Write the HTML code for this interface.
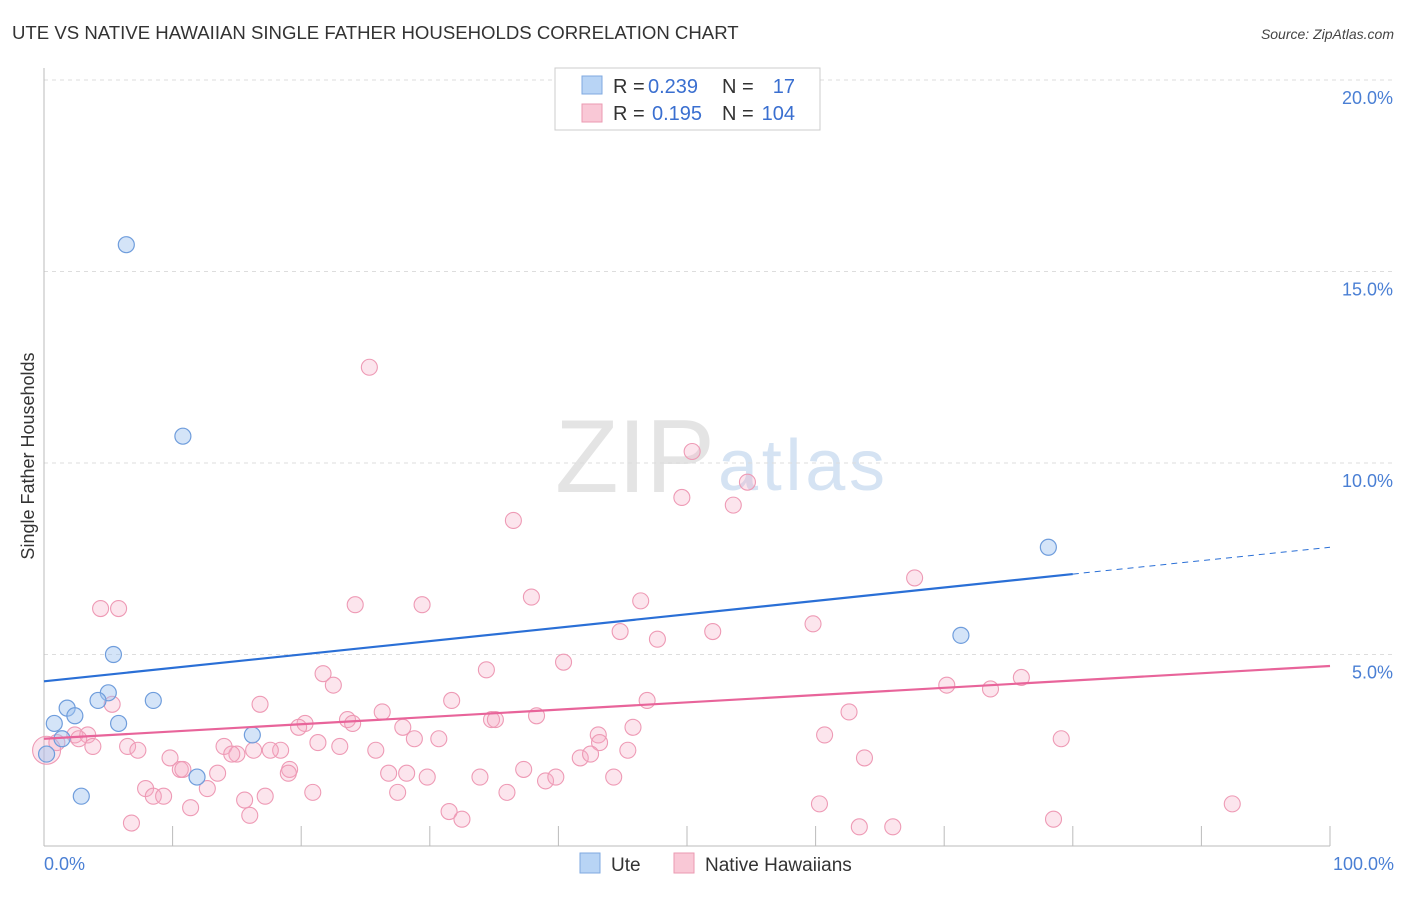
<!DOCTYPE html>
<html><head><meta charset="utf-8"><style>
body{margin:0;background:#fff;font-family:"Liberation Sans",sans-serif;}
svg text{font-family:"Liberation Sans",sans-serif;}
</style></head><body>
<svg width="1406" height="892" viewBox="0 0 1406 892">
<text x="12" y="39" font-size="18.6" fill="#333">UTE VS NATIVE HAWAIIAN SINGLE FATHER HOUSEHOLDS CORRELATION CHART</text>
<text x="1394" y="39" font-size="14" fill="#444" font-style="italic" text-anchor="end">Source: ZipAtlas.com</text>
<text x="555" y="492" font-size="104" fill="#e4e4e4" font-family="Liberation Serif" textLength="160">ZIP</text>
<text x="718" y="490" font-size="72" fill="#d5e3f3" textLength="167">atlas</text>
<g id="grid"></g>
<g id="axes"></g>
<text transform="translate(34,456) rotate(-90)" font-size="18" fill="#333" text-anchor="middle">Single Father Households</text>
<text x="44" y="870" font-size="18" fill="#4a7fd4">0.0%</text>
<text x="1394" y="870" font-size="18" fill="#4a7fd4" text-anchor="end">100.0%</text>
<g id="pink"></g>
<g id="blue"></g>
<g id="trends"></g>
<g>
<rect x="555" y="68" width="265" height="62" fill="#fff" stroke="#ccc"/>
<rect x="582" y="76" width="20" height="18" fill="#b8d4f5" stroke="#7fa9e0"/>
<rect x="582" y="104" width="20" height="18" fill="#f9c8d6" stroke="#eb9ab2"/>
<text x="613" y="93" font-size="20" fill="#333">R =</text>
<text x="648" y="93" font-size="20" fill="#3a6fd0">0.239</text>
<text x="722" y="93" font-size="20" fill="#333">N =</text>
<text x="795" y="93" font-size="20" fill="#3a6fd0" text-anchor="end">17</text>
<text x="613" y="120" font-size="20" fill="#333">R =</text>
<text x="652" y="120" font-size="20" fill="#3a6fd0">0.195</text>
<text x="722" y="120" font-size="20" fill="#333">N =</text>
<text x="795" y="120" font-size="20" fill="#3a6fd0" text-anchor="end">104</text>
</g>
<g>
<rect x="580" y="853" width="20" height="20" fill="#b8d4f5" stroke="#7fa9e0"/>
<text x="611" y="871" font-size="19" fill="#333">Ute</text>
<rect x="674" y="853" width="20" height="20" fill="#f9c8d6" stroke="#eb9ab2"/>
<text x="705" y="871" font-size="19" fill="#333">Native Hawaiians</text>
</g>
</svg>
<script>
const yTicks=[5,10,15,20];
const yTickLabels=["5.0%","10.0%","15.0%","20.0%"];
const uteX=[6.4,10.8,5.4,5.0,4.2,8.5,1.8,2.4,0.8,5.8,1.4,16.2,11.9,2.9,0.2,78.1,71.3];
const uteY=[15.7,10.7,5.0,4.0,3.8,3.8,3.6,3.4,3.2,3.2,2.8,2.9,1.8,1.3,2.4,7.8,5.5];
const nhX=[25.3,50.4,54.7,49.6,53.6,36.5,37.9,67.7,4.4,5.8,24.2,29.4,46.4,44.8,47.7,52.0,59.8,40.4,34.4,21.7,22.5,70.2,73.6,76.0,5.3,16.8,31.7,46.9,62.6,26.3,20.3,23.6,24.0,19.8,27.9,34.8,35.1,38.3,45.8,43.1,60.7,79.1,2.4,3.4,1.0,2.7,3.8,6.5,7.3,14.0,16.3,21.3,23.0,25.8,28.8,30.7,43.2,45.4,18.4,15.0,14.6,17.6,9.8,10.6,10.8,13.5,19.1,19.0,26.8,28.2,29.8,33.9,37.3,39.0,39.8,41.7,42.5,44.3,63.8,7.9,8.5,9.3,12.7,17.2,20.9,27.5,36.0,15.6,11.4,16.0,31.5,32.5,6.8,60.3,63.4,66.0,78.5,92.4,0.2];
const nhY=[12.5,10.3,9.5,9.1,8.9,8.5,6.5,7.0,6.2,6.2,6.3,6.3,6.4,5.6,5.4,5.6,5.8,4.8,4.6,4.5,4.2,4.2,4.1,4.4,3.7,3.7,3.8,3.8,3.5,3.5,3.2,3.3,3.2,3.1,3.1,3.3,3.3,3.4,3.1,2.9,2.9,2.8,2.9,2.9,2.7,2.8,2.6,2.6,2.5,2.6,2.5,2.7,2.6,2.5,2.8,2.8,2.7,2.5,2.5,2.4,2.4,2.5,2.3,2.0,2.0,1.9,2.0,1.9,1.9,1.9,1.8,1.8,2.0,1.7,1.8,2.3,2.4,1.8,2.3,1.5,1.3,1.3,1.5,1.3,1.4,1.4,1.4,1.2,1.0,0.8,0.9,0.7,0.6,1.1,0.5,0.5,0.7,1.1,2.5];
const uteTrend=[4.3,7.1,7.8];
const nhTrend=[2.8,4.7];
const NS="http://www.w3.org/2000/svg";
const sx=v=>44+v*12.86;
const sy=v=>846-v*38.3;
function mk(t,a,p){const e=document.createElementNS(NS,t);for(const k in a)e.setAttribute(k,a[k]);p.appendChild(e);return e;}
const grid=document.getElementById('grid');
yTicks.forEach((t,i)=>{
 const l=mk('line',{x1:44,x2:1394,y1:sy(t),y2:sy(t),stroke:'#ddd','stroke-dasharray':'4,4'},grid);
 
 
 const tx=mk('text',{x:1393,y:sy(t)+24,'font-size':18,fill:'#4a7fd4','text-anchor':'end'},grid);
 tx.textContent=yTickLabels[i];
 
 
});
const ax=document.getElementById('axes');
const la=mk('line',{x1:44,x2:44,y1:68,y2:846,stroke:'#bbb'},ax);


const lb=mk('line',{x1:44,x2:1330,y1:846,y2:846,stroke:'#bbb'},ax);


for(let i=0;i<=10;i++){
 const tk=mk('line',{x1:sx(i*10),x2:sx(i*10),y1:826,y2:846,stroke:'#bbb'},ax);
 
 
}
const pg=document.getElementById('pink');
nhX.forEach((x,i)=>{
 const c=mk('circle',{cx:sx(x),cy:sy(nhY[i]),r:i==nhX.length-1?14:8,fill:'rgba(246,170,195,0.3)',stroke:'#ee9ab5','stroke-width':1.1},pg);
 
 
});
const bg=document.getElementById('blue');
uteX.forEach((x,i)=>{
 const c=mk('circle',{cx:sx(x),cy:sy(uteY[i]),r:8,fill:'rgba(160,195,240,0.45)',stroke:'#6f9ddc','stroke-width':1.2},bg);
 
 
});
const tg=document.getElementById('trends');
const t1=mk('line',{x1:sx(0),y1:sy(uteTrend[0]),x2:sx(80),y2:sy(uteTrend[1]),stroke:'#2a6fd6','stroke-width':2.2},tg);


const t2=mk('line',{x1:sx(80),y1:sy(uteTrend[1]),x2:sx(100),y2:sy(uteTrend[2]),stroke:'#2a6fd6','stroke-width':1,'stroke-dasharray':'6,5'},tg);


const t3=mk('line',{x1:sx(0),y1:sy(nhTrend[0]),x2:sx(100),y2:sy(nhTrend[1]),stroke:'#e8649a','stroke-width':2.2},tg);


</script>
</body></html>
